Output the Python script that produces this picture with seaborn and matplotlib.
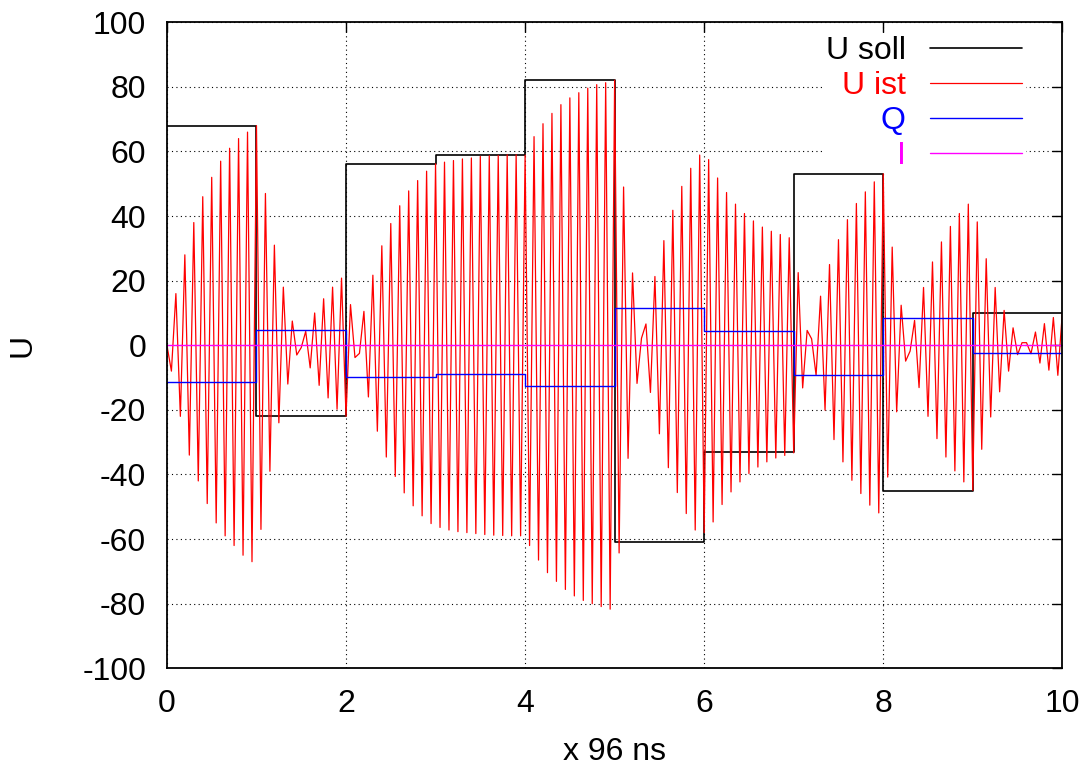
import numpy as np
import matplotlib
matplotlib.use("Agg")
import matplotlib.pyplot as plt
import seaborn as sns

# segment edges in units of 96 ns
seg_edges = [0, 1, 2, 3, 4, 5, 6, 7, 8, 9, 10]
# set value per segment
u_soll = [68, -22, 56, 59, 82, -61, -33, 53, -45, 10]
# Q and I per segment
q_vals = [-11.4, 4.6, -9.7, -9.0, -12.6, 11.4, 4.5, -9.3, 8.3, -2.4]
i_vals = [0, 0, 0, 0, 0, 0, 0, 0, 0, 0]

# U ist: peaks of the oscillation, read every 0.05 units (one row per segment)
ist_step = 0.05
u_ist = [
    0, -8, 16, -22, 28, -34, 38, -42, 46, -49, 52, -55, 57, -59, 61, -62, 64, -65, 66, -67,
    68, -57, 47, -39, 31, -24, 18, -12, 7.5, -3, -0.7, 4.3, -7, 10, -12.4, 14.4, -16.3, 18, -19.8, 20.8,
    -22, 12.6, -3.8, -2.5, 10.5, -16, 21.7, -26.6, 30.8, -34.6, 37.7, -40.6, 43.2, -45.7, 47.8, -49.7, 51, -52.8, 53.9, -55.2,
    56.2, -56.4, 56.7, -57.2, 57.2, -57.7, 57.7, -58, 58, -58.3, 58.5, -58.6, 58.7, -58.8, 58.8, -58.9, 59, -59, 59, -59,
    58.9, -62, 64.6, -66.5, 68.6, -70.4, 71.8, -73.1, 74.5, -75.6, 76.6, -77.6, 78.2, -79, 79.6, -80, 80.7, -80.9, 81.3, -81.7,
    82.1, -64.3, 49, -35, 22.4, -11.8, 2.2, 6.6, -14.6, 21.3, -27.4, 32.4, -37.9, 41.8, -45.6, 49.2, -52.1, 54.8, -57.2, 58.9,
    -58, 57.5, -54.7, 51.8, -49.3, 47.3, -45.4, 43.7, -42.3, 40.8, -39.7, 38.5, -37.7, 36.6, -36.1, 35.3, -34.9, 34.3, -34.1, 33.3,
    -33.3, 22.5, -13.2, 4.6, 2, -9.3, 15.2, -20.1, 25, -29.2, 32.7, -36.1, 38.9, -41.8, 43.9, -45.9, 47.5, -49.5, 50.6, -51.9,
    53.1, -40.8, 30.4, -20.6, 12.4, -4.9, -1.8, 7.7, -13.1, 17.9, -22, 25.8, -28.9, 32, -34.6, 36.8, -38.9, 40.8, -42.3, 43.7,
    -44.9, 38.2, -32.2, 26.8, -22.2, 17.9, -14.4, 10.8, -8, 5.4, -2.9, 0.8, 0.8, -2.6, 4.1, -5.5, 6.7, -7.7, 8.6, -9.3,
    10,
]

x_ticks = [0, 2, 4, 6, 8, 10]
y_ticks = [-100, -80, -60, -40, -20, 0, 20, 40, 60, 80, 100]

sns.set_theme(style="white")
plt.rcParams["font.family"] = ["Liberation Sans", "DejaVu Sans"]
plt.rcParams["axes.edgecolor"] = "black"
plt.rcParams["axes.labelcolor"] = "black"
plt.rcParams["axes.unicode_minus"] = False

fig = plt.figure(figsize=(10.84, 7.69), dpi=100)
ax = fig.add_axes([0.154, 0.131, 0.826, 0.840])

t_ist = np.arange(len(u_ist)) * ist_step
edges = np.array(seg_edges)

def steps(vals):
    return list(vals) + [vals[-1]]

sns.lineplot(x=edges, y=steps(u_soll), drawstyle="steps-post", color="black",
             lw=1.2, label="U soll", ax=ax, errorbar=None, sort=False)
sns.lineplot(x=t_ist, y=u_ist, color="#ff0000", lw=0.9, label="U ist",
             ax=ax, errorbar=None, sort=False)
sns.lineplot(x=edges, y=steps(q_vals), drawstyle="steps-post", color="#0000ff",
             lw=1.0, label="Q", ax=ax, errorbar=None, sort=False)
sns.lineplot(x=edges, y=steps(i_vals), drawstyle="steps-post", color="#ff00ff",
             lw=1.0, label="I", ax=ax, errorbar=None, sort=False)

ax.set_xlim(0, 10)
ax.set_ylim(-100, 100)
ax.set_xticks(x_ticks)
ax.set_yticks(y_ticks)
ax.grid(True, color="black", linestyle=(0, (1, 3)), lw=0.8)
ax.set_axisbelow(True)
for s in ax.spines.values():
    s.set_linewidth(1.3)
    s.set_color("black")
ax.tick_params(direction="in", length=7, width=1, top=True, right=True,
               labelsize=23, colors="black", pad=15)

ax.set_xlabel("x 96 ns", fontsize=23, color="black")
ax.set_ylabel("U", fontsize=23, color="black")
ax.xaxis.set_label_coords(0.5, -0.107)
ax.yaxis.set_label_coords(-0.145, 0.5)

leg = ax.legend(loc="upper right", bbox_to_anchor=(0.959, 0.983), borderaxespad=0,
                markerfirst=False, frameon=True, facecolor="white", edgecolor="none",
                framealpha=1, labelcolor="linecolor", fontsize=23, handlelength=2.9,
                handletextpad=0.75, labelspacing=0.15, borderpad=0.1)
# key box hides the grid but stays under the curves
leg.set_zorder(1.5)

fig.savefig("out.png", dpi=100)
